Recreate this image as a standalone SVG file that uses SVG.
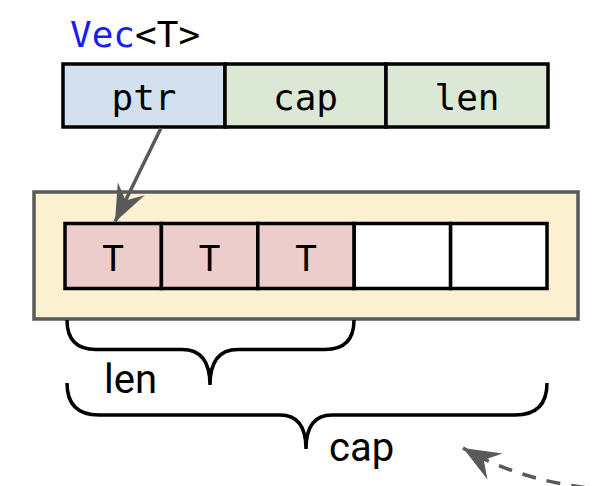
<svg xmlns="http://www.w3.org/2000/svg" width="592" height="486" viewBox="0 0 592 486">
<style>
.cell{stroke:#000;stroke-width:3.5}
.mono{font-family:"DejaVu Sans Mono","Liberation Mono",monospace;font-size:36px;fill:#000}
.sans{font-family:Roboto,"Liberation Sans",sans-serif;font-size:40px;fill:#000}
.brace{fill:none;stroke:#000;stroke-width:3.5}
.conn{fill:none;stroke:#595959;stroke-width:3.5}
</style>
<defs>
<marker id="ah" markerUnits="userSpaceOnUse" markerWidth="50" markerHeight="40" viewBox="-40 -20 50 40" refX="0" refY="0" orient="auto">
<path d="M0,0 L-37,-15 L-24,0 L-37,15 Z" fill="#595959"/>
</marker>
</defs>
<rect width="592" height="486" fill="#fff"/>
<g id="title">
<text class="mono" x="70" y="47"><tspan fill="#1a1aff">Vec</tspan>&lt;T&gt;</text>
</g>
<g id="vec">
<rect class="cell" x="63" y="64" width="162" height="63" fill="#d3e0f0"/>
<rect class="cell" x="225" y="64" width="161" height="63" fill="#dbe8d5"/>
<rect class="cell" x="386" y="64" width="162" height="63" fill="#dbe8d5"/>
<text class="mono" x="144" y="110" text-anchor="middle">ptr</text>
<text class="mono" x="305.5" y="110" text-anchor="middle">cap</text>
<text class="mono" x="467" y="110" text-anchor="middle">len</text>
</g>
<g id="heap">
<rect x="34" y="192" width="544" height="127" fill="#fbf0cf" stroke="#595959" stroke-width="3.5"/>
</g>
<g id="buffer">
<rect class="cell" x="65" y="223.5" width="96.4" height="65" fill="#eccdcb"/>
<rect class="cell" x="161.4" y="223.5" width="96.4" height="65" fill="#eccdcb"/>
<rect class="cell" x="257.8" y="223.5" width="96.4" height="65" fill="#eccdcb"/>
<rect class="cell" x="354.2" y="223.5" width="96.4" height="65" fill="#fff"/>
<rect class="cell" x="450.6" y="223.5" width="96.4" height="65" fill="#fff"/>
<text class="mono" x="113.2" y="271" text-anchor="middle">T</text>
<text class="mono" x="209.6" y="271" text-anchor="middle">T</text>
<text class="mono" x="306" y="271" text-anchor="middle">T</text>
</g>
<g id="len-brace">
<path class="brace" d="M67,320 Q67,349.5 96,349.5 L182,349.5 Q210,349.5 210,385 Q210,349.5 238,349.5 L325,349.5 Q354,349.5 354,320"/>
<text class="sans" x="104" y="393">len</text>
</g>
<g id="cap-brace">
<path class="brace" d="M67,383 Q67,415 99,415 L280,415 Q306,415 306,449 Q306,415 332,415 L515,415 Q547,415 547,383"/>
<text class="sans" x="329" y="461">cap</text>
</g>
<g id="connectors">
<path class="conn" d="M161,128 L115,222" marker-end="url(#ah)"/>
<path class="conn" d="M610,490 Q525,484 463,448" stroke-dasharray="14,11" marker-end="url(#ah)"/>
</g>
</svg>
